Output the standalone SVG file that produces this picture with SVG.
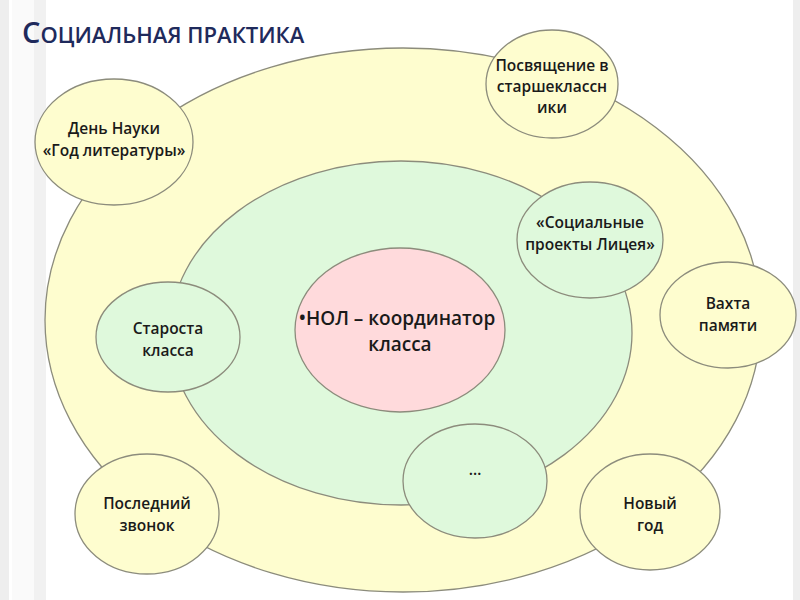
<svg xmlns="http://www.w3.org/2000/svg" width="800" height="600" viewBox="0 0 800 600">
<style>
.e{stroke:#8c8c7c;stroke-width:1.3}
.y{fill:#FEFDCF}
.g{fill:#DFF9DC}
.p{fill:#FFDADC}
.t{font-family:"Open Sans","Noto Sans","DejaVu Sans",sans-serif;font-weight:600;font-size:15.5px;fill:#1a1a1a;text-anchor:middle}
.c{font-size:19px}
.ti{font-family:"Open Sans","Noto Sans","DejaVu Sans",sans-serif;font-weight:600;fill:#1F2A5C}
</style>
<g id="background">
<rect x="0" y="0" width="800" height="600" fill="#ffffff"/>
<rect x="0" y="0" width="9" height="600" fill="#eeeeee"/>
<rect x="12" y="0" width="22" height="600" fill="#fafafa"/>
<rect x="34" y="0" width="12" height="600" fill="#f1f1f1"/>
<rect x="793" y="0" width="7" height="600" fill="#eeeeee"/>
</g>
<text class="ti" x="22" y="43"><tspan font-size="29">С</tspan><tspan font-size="22">ОЦИАЛЬНАЯ ПРАКТИКА</tspan></text>
<g id="outer"><ellipse class="e y" cx="403" cy="320" rx="358" ry="272"/></g>
<g id="middle"><ellipse class="e g" cx="401" cy="333" rx="231" ry="172"/></g>
<g id="center"><ellipse class="e p" cx="400" cy="330" rx="105" ry="82"/>
<text class="t c" x="397" y="325">•НОЛ – координатор</text>
<text class="t c" x="400" y="351">класса</text></g>
<g id="den-nauki"><ellipse class="e y" cx="114" cy="142" rx="79" ry="63"/>
<text class="t" x="114" y="134">День Науки</text>
<text class="t" x="114" y="156">«Год литературы»</text></g>
<g id="posvyashchenie"><ellipse class="e y" cx="552" cy="84" rx="66" ry="54"/>
<text class="t" x="552" y="71">Посвящение в</text>
<text class="t" x="552" y="92">старшеклассн</text>
<text class="t" x="552" y="113">ики</text></g>
<g id="socialnye"><ellipse class="e g" cx="590" cy="240" rx="73" ry="58"/>
<text class="t" x="590" y="228">«Социальные</text>
<text class="t" x="590" y="250">проекты Лицея»</text></g>
<g id="vakhta"><ellipse class="e y" cx="728" cy="315" rx="68" ry="53"/>
<text class="t" x="728" y="309">Вахта</text>
<text class="t" x="728" y="331">памяти</text></g>
<g id="starosta"><ellipse class="e g" cx="168" cy="337" rx="72" ry="55"/>
<text class="t" x="168" y="334">Староста</text>
<text class="t" x="168" y="356">класса</text></g>
<g id="dots"><ellipse class="e g" cx="475" cy="481" rx="72" ry="57"/>
<text class="t" x="475" y="475">…</text></g>
<g id="posledny"><ellipse class="e y" cx="147" cy="514" rx="72" ry="60"/>
<text class="t" x="147" y="509">Последний</text>
<text class="t" x="147" y="531">звонок</text></g>
<g id="novy-god"><ellipse class="e y" cx="650" cy="512" rx="70" ry="58"/>
<text class="t" x="650" y="509">Новый</text>
<text class="t" x="650" y="531">год</text></g>
<g id="connectors"/>
</svg>
